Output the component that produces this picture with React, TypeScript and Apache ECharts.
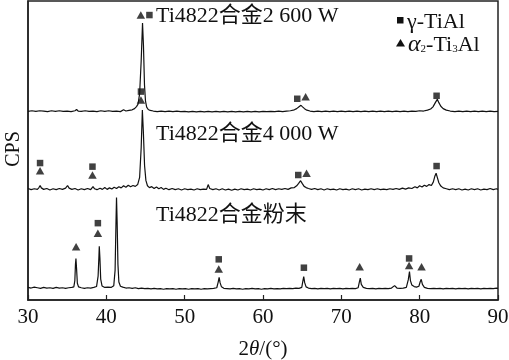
import React, { useEffect, useRef } from "react";
import * as echarts from "echarts";

// 2θ (deg) vs. intensity (offset, arbitrary units on a 0–100 scale)
const powder: [number, number][] = [
  [30, 4.2], [30.4, 4.0], [30.8, 4.3], [31.2, 4.1], [31.6, 3.9], [32.0, 4.2], [32.4, 4.0], [32.8, 4.1],
  [33.2, 3.9], [33.6, 4.2], [34.0, 4.0], [34.4, 4.1], [34.8, 3.9], [35.2, 4.1], [35.6, 4.2], [35.85, 4.4],
  [35.98, 6.5], [36.06, 12], [36.12, 13.9], [36.2, 10.5], [36.3, 5.6], [36.45, 4.4], [36.8, 4.1], [37.2, 3.9],
  [37.6, 4.1], [38.0, 4.0], [38.4, 4.2], [38.75, 4.5], [38.95, 8], [39.06, 15], [39.1, 18], [39.18, 14],
  [39.28, 7], [39.45, 4.7], [39.8, 4.2], [40.2, 4.3], [40.6, 4.2], [40.95, 4.8], [41.12, 10], [41.24, 27],
  [41.3, 34.3], [41.38, 26], [41.48, 12], [41.6, 6], [41.8, 4.6], [42.1, 4.3], [42.5, 4.0], [42.9, 4.1],
  [43.3, 3.9], [43.7, 4.1], [44.1, 3.8], [44.5, 4.0], [44.9, 3.8], [45.3, 3.9], [45.7, 3.7], [46.1, 3.9],
  [46.5, 3.7], [46.9, 3.8], [47.3, 3.6], [47.7, 3.8], [48.1, 3.7], [48.5, 3.8], [48.9, 3.6], [49.3, 3.8],
  [49.7, 3.7], [50.1, 3.8], [50.5, 3.6], [50.9, 3.8], [51.3, 3.7], [51.7, 3.8], [52.1, 3.6], [52.5, 3.8],
  [52.9, 3.7], [53.3, 3.8], [53.7, 3.9], [54.1, 4.1], [54.28, 6.0], [54.4, 7.6], [54.52, 5.8], [54.7, 4.4],
  [55.0, 3.9], [55.4, 3.8], [55.8, 3.7], [56.2, 3.9], [56.6, 3.7], [57.0, 3.8], [57.4, 3.6], [57.8, 3.8],
  [58.2, 3.7], [58.6, 3.9], [59.0, 3.7], [59.4, 3.8], [59.8, 3.6], [60.2, 3.8], [60.6, 3.7], [61.0, 3.9],
  [61.4, 3.7], [61.8, 3.8], [62.2, 3.7], [62.6, 3.9], [63.0, 3.8], [63.4, 3.9], [63.8, 3.8], [64.2, 4.0],
  [64.6, 3.9], [64.95, 4.2], [65.1, 6.5], [65.2, 7.8], [65.32, 5.8], [65.5, 4.4], [65.8, 4.0], [66.2, 3.8],
  [66.6, 3.9], [67.0, 3.7], [67.4, 3.9], [67.8, 3.8], [68.2, 3.9], [68.6, 3.7], [69.0, 3.9], [69.4, 3.8],
  [69.8, 3.9], [70.2, 3.7], [70.6, 3.9], [71.0, 3.8], [71.4, 3.9], [71.8, 3.8], [72.15, 4.1], [72.32, 6.2],
  [72.42, 7.3], [72.55, 5.2], [72.8, 4.2], [73.2, 3.9], [73.6, 3.8], [74.0, 3.9], [74.4, 3.7], [74.8, 3.9],
  [75.2, 3.8], [75.6, 3.9], [76.0, 3.8], [76.4, 4.0], [76.8, 4.8], [77.1, 4.0], [77.5, 3.9], [77.9, 4.0],
  [78.3, 4.2], [78.55, 6.8], [78.7, 9.5], [78.82, 6.5], [79.0, 5.0], [79.3, 4.5], [79.6, 4.3], [79.9, 4.6],
  [80.08, 6.2], [80.2, 6.9], [80.35, 5.2], [80.6, 4.2], [81.0, 3.9], [81.4, 3.8], [81.8, 3.9], [82.2, 3.8],
  [82.6, 3.9], [83.0, 3.7], [83.4, 3.9], [83.8, 3.8], [84.2, 3.9], [84.6, 3.7], [85.0, 3.9], [85.4, 3.8],
  [85.8, 3.9], [86.2, 3.7], [86.6, 3.9], [87.0, 3.8], [87.4, 3.9], [87.8, 3.7], [88.2, 3.9], [88.6, 3.8],
  [89.0, 3.9], [89.4, 3.8], [89.8, 4.0], [90, 3.9],
];

const w4000: [number, number][] = [
  [30, 37.3], [30.4, 36.9], [30.8, 37.2], [31.2, 37.0], [31.4, 37.6], [31.55, 38.3], [31.7, 37.5], [32.0, 37.0],
  [32.4, 37.3], [32.8, 36.8], [33.2, 37.2], [33.6, 36.9], [34.0, 37.3], [34.4, 37.0], [34.8, 37.4], [35.05, 38.3],
  [35.25, 37.4], [35.6, 37.0], [36.0, 37.3], [36.4, 36.8], [36.8, 37.2], [37.2, 36.9], [37.6, 37.3], [38.0, 36.9],
  [38.3, 37.9], [38.5, 37.2], [38.8, 36.9], [39.2, 37.4], [39.5, 37.0], [39.8, 37.6], [40.1, 37.0], [40.4, 37.5],
  [40.7, 37.1], [41.0, 37.7], [41.3, 37.3], [41.6, 37.9], [41.9, 37.5], [42.2, 38.2], [42.5, 37.7], [42.8, 38.4],
  [43.1, 37.9], [43.4, 38.3], [43.7, 38.0], [44.0, 38.6], [44.25, 41], [44.45, 51], [44.6, 63.5], [44.73, 56],
  [44.88, 45], [45.05, 40], [45.25, 38.2], [45.5, 37.6], [45.8, 37.9], [46.1, 37.3], [46.4, 37.8], [46.7, 37.2],
  [47.0, 37.6], [47.3, 37.0], [47.6, 37.4], [48.0, 36.9], [48.4, 37.3], [48.8, 36.9], [49.2, 37.2], [49.6, 36.8],
  [50.0, 37.2], [50.4, 36.9], [50.8, 37.1], [51.2, 36.8], [51.6, 37.2], [52.0, 36.9], [52.4, 37.1], [52.8, 37.0],
  [53.0, 38.6], [53.2, 37.3], [53.6, 36.9], [54.0, 37.2], [54.4, 36.8], [54.8, 37.2], [55.2, 36.8], [55.6, 37.1],
  [56.0, 36.7], [56.4, 37.1], [56.8, 36.8], [57.2, 37.2], [57.6, 36.9], [58.0, 37.1], [58.4, 36.8], [58.8, 37.2],
  [59.2, 36.9], [59.6, 37.1], [60.0, 36.8], [60.4, 37.2], [60.8, 36.9], [61.2, 37.3], [61.6, 36.9], [62.0, 37.2],
  [62.4, 37.0], [62.8, 37.3], [63.2, 37.0], [63.6, 37.5], [64.0, 37.6], [64.3, 38.2], [64.55, 39.0], [64.8, 39.9],
  [65.0, 39.0], [65.25, 38.0], [65.5, 37.6], [65.8, 37.3], [66.2, 37.0], [66.6, 37.3], [67.0, 36.9], [67.4, 37.2],
  [67.8, 36.8], [68.2, 37.2], [68.6, 36.9], [69.0, 37.1], [69.4, 36.8], [69.8, 37.2], [70.2, 36.9], [70.6, 37.1],
  [71.0, 36.8], [71.4, 37.2], [71.8, 36.9], [72.2, 37.2], [72.6, 36.8], [73.0, 37.1], [73.4, 36.9], [73.8, 37.2],
  [74.2, 36.9], [74.6, 37.2], [75.0, 36.9], [75.4, 37.1], [75.8, 36.9], [76.2, 37.2], [76.6, 37.0], [77.0, 37.3],
  [77.4, 37.0], [77.8, 37.4], [78.2, 37.1], [78.6, 37.5], [79.0, 37.3], [79.4, 37.9], [79.7, 37.5], [80.0, 38.2],
  [80.3, 37.8], [80.6, 38.4], [80.9, 38.0], [81.2, 38.6], [81.5, 38.3], [81.75, 39.5], [81.95, 41.5], [82.1, 42.4],
  [82.25, 41.0], [82.45, 39.2], [82.7, 38.1], [83.0, 37.5], [83.4, 37.2], [83.8, 36.9], [84.2, 37.2], [84.6, 36.9],
  [85.0, 37.2], [85.4, 36.8], [85.8, 37.1], [86.2, 36.8], [86.6, 37.2], [87.0, 36.9], [87.4, 37.2], [87.8, 36.8],
  [88.2, 37.1], [88.6, 36.9], [89.0, 37.3], [89.4, 36.9], [89.8, 37.2], [90, 37.0],
];

const w2600: [number, number][] = [
  [30, 63.1], [30.5, 63.3], [31.0, 63.1], [31.5, 63.3], [32.0, 63.2], [32.5, 63.0], [33.0, 63.3], [33.5, 63.1],
  [34.0, 63.3], [34.5, 63.1], [35.0, 63.2], [35.5, 63.0], [36.0, 63.3], [36.2, 63.7], [36.4, 63.2], [36.8, 63.1],
  [37.3, 63.3], [37.8, 63.1], [38.3, 63.2], [38.8, 63.0], [39.3, 63.3], [39.8, 63.1], [40.3, 63.3], [40.8, 63.1],
  [41.3, 63.2], [41.8, 63.0], [42.2, 63.6], [42.5, 63.2], [42.9, 63.4], [43.3, 63.6], [43.6, 64.0], [43.85, 64.7],
  [44.05, 65.5], [44.25, 69], [44.45, 80], [44.62, 92.6], [44.74, 85], [44.87, 72], [45.0, 66.5], [45.15, 64.5],
  [45.35, 63.7], [45.6, 63.4], [46.0, 63.2], [46.5, 63.0], [47.0, 63.2], [47.5, 63.0], [48.0, 63.2], [48.5, 63.0],
  [49.0, 63.2], [49.5, 63.0], [50.0, 63.1], [50.5, 62.9], [51.0, 63.1], [51.5, 62.9], [52.0, 63.1], [52.5, 62.9],
  [53.0, 63.1], [53.5, 62.9], [54.0, 63.1], [54.5, 62.9], [55.0, 63.1], [55.5, 62.9], [56.0, 63.1], [56.5, 62.9],
  [57.0, 63.1], [57.5, 62.9], [58.0, 63.1], [58.5, 62.9], [59.0, 63.1], [59.5, 62.9], [60.0, 63.1], [60.5, 63.0],
  [61.0, 63.1], [61.5, 63.0], [62.0, 63.2], [62.5, 63.0], [63.0, 63.2], [63.5, 63.3], [64.0, 63.6], [64.3, 64.0],
  [64.6, 64.6], [64.85, 65.1], [65.05, 64.6], [65.3, 64.0], [65.6, 63.5], [66.0, 63.2], [66.5, 63.0], [67.0, 63.2],
  [67.5, 63.0], [68.0, 63.2], [68.5, 63.0], [69.0, 63.2], [69.5, 63.0], [70.0, 63.2], [70.5, 63.0], [71.0, 63.2],
  [71.5, 63.0], [72.0, 63.2], [72.5, 63.0], [73.0, 63.2], [73.5, 63.0], [74.0, 63.2], [74.5, 63.0], [75.0, 63.2],
  [75.5, 63.0], [76.0, 63.2], [76.5, 63.0], [77.0, 63.2], [77.5, 63.0], [78.0, 63.2], [78.5, 63.0], [79.0, 63.2],
  [79.5, 63.1], [80.0, 63.3], [80.5, 63.2], [81.0, 63.5], [81.4, 63.9], [81.7, 64.6], [82.0, 66.0], [82.25, 67.1],
  [82.45, 66.0], [82.7, 64.8], [83.0, 64.0], [83.4, 63.5], [83.9, 63.2], [84.5, 63.0], [85.0, 63.2], [85.5, 63.0],
  [86.0, 63.2], [86.5, 63.0], [87.0, 63.2], [87.5, 63.0], [88.0, 63.2], [88.5, 63.0], [89.0, 63.2], [89.5, 63.0],
  [90, 63.1],
];

// phase markers: [2θ, vertical position]
const gammaMarks: [number, number][] = [
  [45.5, 95.3], [44.42, 69.7], [64.37, 67.3], [82.16, 68.3],
  [31.54, 45.8], [38.23, 44.6], [64.5, 41.8], [82.16, 44.8],
  [38.92, 25.7], [54.35, 13.6], [65.22, 10.8], [78.65, 13.9],
];
const alphaMarks: [number, number][] = [
  [44.4, 95.3], [44.42, 66.9], [65.44, 68.0],
  [31.54, 43.2], [38.23, 41.8], [65.56, 42.4],
  [36.14, 17.8], [38.92, 22.3], [54.35, 10.4], [72.34, 11.1], [78.65, 11.5], [80.24, 11.1],
];

const sampleLabels = ["Ti4822合金2 600 W", "Ti4822合金4 000 W", "Ti4822合金粉末"];
const xTicks = [30, 40, 50, 60, 70, 80, 90];

const SERIF = "Liberation Serif";
const FONT_STACK = '"Liberation Serif", "Noto Sans CJK SC", serif';

export default function App() {
  const ref = useRef<HTMLDivElement>(null);
  useEffect(() => {
    if (!ref.current) return;
    const chart = echarts.init(ref.current, undefined, { renderer: "svg" });
    const lineSeries = (data: [number, number][]) => ({
      type: "line",
      data,
      showSymbol: false,
      symbol: "none",
      lineStyle: { color: "#111", width: 1.2 },
      z: 2,
    });
    const labelY = [14, 132, 213];
    chart.setOption({
      animation: false,
      grid: {
        left: 28, right: 11, top: 1, bottom: 60,
        show: true, borderColor: "#222", borderWidth: 1.5,
        containLabel: false, outerBoundsMode: "none",
      },
      xAxis: {
        type: "value",
        min: xTicks[0],
        max: xTicks[xTicks.length - 1],
        interval: 10,
        axisLine: { show: true, lineStyle: { color: "#222", width: 1.5 } },
        axisTick: { show: true, inside: true, length: 5, lineStyle: { color: "#222", width: 1.2 } },
        axisLabel: { color: "#111", fontFamily: SERIF, fontSize: 21, margin: 5 },
        splitLine: { show: false },
      },
      yAxis: {
        type: "value",
        min: 0,
        max: 100,
        axisLine: { show: true, lineStyle: { color: "#222", width: 1.5 } },
        axisTick: { show: false },
        axisLabel: { show: false },
        splitLine: { show: false },
      },
      series: [
        lineSeries(powder),
        lineSeries(w4000),
        lineSeries(w2600),
        {
          type: "scatter",
          data: gammaMarks,
          symbol: "rect",
          symbolSize: [6.5, 6.5],
          itemStyle: { color: "#111" },
          z: 3,
        },
        {
          type: "scatter",
          data: alphaMarks,
          symbol: "triangle",
          symbolSize: [8.5, 7.5],
          itemStyle: { color: "#111" },
          z: 3,
        },
      ],
      graphic: [
        ...sampleLabels.map((t, i) => ({
          type: "text",
          x: 156,
          y: labelY[i],
          style: { text: t, font: `22px ${FONT_STACK}`, fill: "#111", textVerticalAlign: "middle" },
        })),
        {
          type: "text",
          x: 12,
          y: 149,
          rotation: Math.PI / 2,
          style: { text: "CPS", font: `20px ${FONT_STACK}`, fill: "#111", textAlign: "center", textVerticalAlign: "middle" },
        },
        {
          type: "text",
          x: 263,
          y: 348,
          style: {
            text: "2{i|θ}/(°)",
            font: `21px ${FONT_STACK}`,
            fill: "#111",
            textAlign: "center",
            textVerticalAlign: "middle",
            rich: { i: { font: `italic 21px ${FONT_STACK}`, fill: "#111" } },
          },
        },
        { type: "rect", shape: { x: 397, y: 17, width: 6.5, height: 6.5 }, style: { fill: "#111" } },
        { type: "polygon", shape: { points: [[400.5, 39], [396, 46.5], [405, 46.5]] }, style: { fill: "#111" } },
        {
          type: "text",
          x: 407,
          y: 20,
          style: { text: "γ-TiAl", font: `22px ${FONT_STACK}`, fill: "#111", textVerticalAlign: "middle" },
        },
        {
          type: "text",
          x: 408,
          y: 43,
          style: {
            text: "{a|α}{s|2}-Ti{s|3}Al",
            fill: "#111",
            textVerticalAlign: "middle",
            font: `22px ${FONT_STACK}`,
            lineHeight: 20,
            rich: {
              a: { font: `italic 24px ${FONT_STACK}`, fill: "#111", lineHeight: 20, verticalAlign: "middle" },
              s: { font: `11px ${FONT_STACK}`, fill: "#111", lineHeight: 20, verticalAlign: "bottom", padding: [8, 0, 0, 0] },
            },
          },
        },
      ],
    });
    return () => chart.dispose();
  }, []);
  return <div ref={ref} style={{ position: "fixed", left: 0, top: 0, width: 509, height: 360 }} />;
}
